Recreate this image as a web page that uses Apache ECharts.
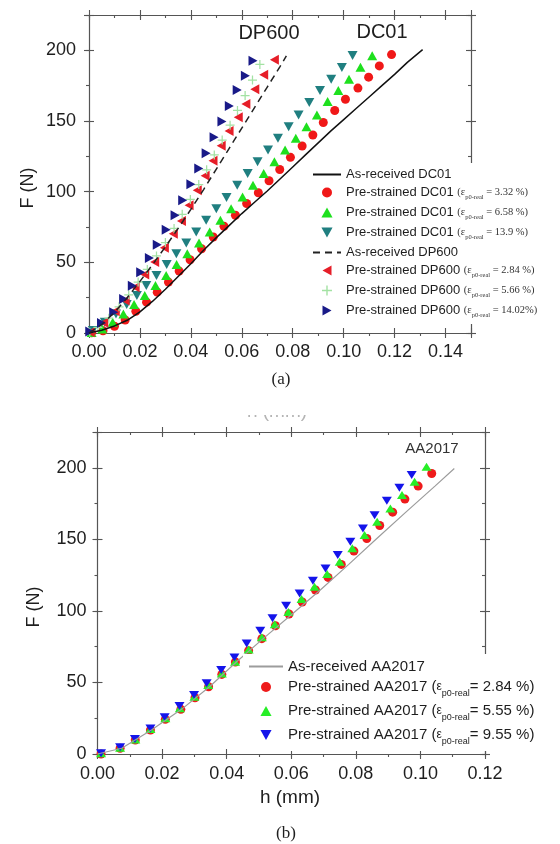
<!DOCTYPE html>
<html>
<head>
<meta charset="utf-8">
<script src="https://cdn.jsdelivr.net/npm/echarts@6/dist/echarts.min.js"></script>
<style>
html, body { margin: 0; padding: 0; background: #fff; }
#chart { width: 560px; height: 844px; }
</style>
</head>
<body>
<div id="chart"></div>
<script>
// ---- Panel (a): DC01 and DP600 steel, indentation force F (N) vs depth h (mm) ----
const dc01AsReceived = [[0,0],[0.005,2],[0.01,5],[0.015,9],[0.02,15],[0.025,22.5],[0.03,31],[0.035,40],[0.04,49],[0.045,58.5],[0.05,67.5],[0.055,76],[0.06,84.5],[0.065,92.5],[0.07,100.5],[0.075,109],[0.08,117.5],[0.085,126],[0.09,134.5],[0.095,143],[0.1,151],[0.105,159],[0.11,167],[0.115,175],[0.12,183],[0.125,191.5],[0.131,200.5]];
const dc01Pre332 = [[0.001,0.2],[0.0055,1.6],[0.01,4.8],[0.0142,9.2],[0.0184,15.4],[0.0226,21.8],[0.0268,28.9],[0.0312,36],[0.0354,43.8],[0.0397,51.8],[0.0442,59.6],[0.0488,67.9],[0.053,75.5],[0.0575,83.3],[0.0619,91.6],[0.0665,99.2],[0.0707,107.7],[0.0749,115.7],[0.0791,124.3],[0.0837,132.3],[0.0879,140.1],[0.092,148.9],[0.0965,157.4],[0.1007,165.4],[0.1056,173.3],[0.1098,181],[0.114,189],[0.1188,197]];
const dc01Pre658 = [[0.001,0.3],[0.0052,2.8],[0.0093,7.6],[0.0135,13.5],[0.0177,20.1],[0.0219,26.5],[0.0261,33.6],[0.0303,40.7],[0.0344,48.5],[0.0386,56],[0.0432,63.7],[0.0474,71.5],[0.0516,79.8],[0.0558,88],[0.0603,96.3],[0.0644,104.6],[0.0686,112.9],[0.0728,121.2],[0.077,129.5],[0.0812,137.8],[0.0854,146],[0.0895,154.3],[0.0937,163.8],[0.0979,171.6],[0.1021,179.6],[0.1066,188],[0.1112,196.2]];
const dc01Pre139 = [[0.0015,1.7],[0.0062,7.6],[0.0106,13.5],[0.0148,20.1],[0.0188,26.5],[0.0225,33.6],[0.0265,40.7],[0.0305,48.5],[0.0343,56.1],[0.0382,63.7],[0.0421,71.5],[0.046,79.8],[0.05,88],[0.054,95.9],[0.0582,104.6],[0.0623,112.9],[0.0662,121.2],[0.0703,129.5],[0.0742,137.8],[0.0784,146],[0.0823,154.3],[0.0865,163.1],[0.0907,171.6],[0.0951,179.6],[0.0993,187.9],[0.1035,196.4]];
const dp600AsReceived = [[0,0],[0.005,6],[0.01,14.5],[0.015,25],[0.02,36.5],[0.025,48.5],[0.03,61],[0.035,74],[0.04,87.5],[0.045,101.5],[0.05,116],[0.055,130.5],[0.06,145],[0.065,159.5],[0.07,174],[0.075,188.5],[0.0775,196]];
const dp600Pre284 = [[0.0005,0.5],[0.0058,7.2],[0.0103,15.4],[0.0142,23],[0.0181,32.4],[0.0219,41.4],[0.0258,50.2],[0.0296,60.4],[0.0331,70.3],[0.0363,79.3],[0.0393,90.4],[0.0425,101],[0.0456,111.2],[0.0487,121.9],[0.0519,132.5],[0.055,143],[0.0586,152.7],[0.0616,162],[0.0651,172.5],[0.0686,182.7],[0.0728,193.4]];
const dp600Pre566 = [[0.0003,0.5],[0.0035,4],[0.0078,10.5],[0.0118,18.5],[0.0156,27],[0.0193,36],[0.0229,45],[0.0265,54.5],[0.03,64],[0.0334,74],[0.0366,84],[0.0398,94.5],[0.0431,105],[0.0462,115.5],[0.0492,126],[0.0523,136.5],[0.0554,147],[0.0583,157.5],[0.0613,168],[0.0642,179],[0.0671,190]];
const dp600Pre1402 = [[0.0003,1],[0.0049,7.1],[0.0097,14.6],[0.0136,24.1],[0.017,33.5],[0.0203,43],[0.0237,53],[0.0268,62.5],[0.0303,73.1],[0.0338,83.3],[0.0368,94],[0.04,105.3],[0.0431,116.4],[0.046,127.1],[0.0491,138.5],[0.0522,149.6],[0.0551,160.7],[0.0582,172],[0.0614,182],[0.0644,192.7]];

// ---- Panel (b): AA2017 aluminium ----
const aa2017AsReceived = [[0,0],[0.0075,4],[0.0167,16.8],[0.026,31.2],[0.0347,47],[0.043,64.3],[0.0513,80.6],[0.0603,97.8],[0.069,114.6],[0.0778,132.5],[0.0865,150.6],[0.0955,169],[0.1045,187.2],[0.1105,199.5]];
const aa2017Pre284 = [[0.0011,0],[0.007,4],[0.0117,9.8],[0.0164,16.8],[0.021,24.2],[0.0258,31.2],[0.0302,39.3],[0.0344,47],[0.0385,55.6],[0.0427,64.3],[0.0468,72.2],[0.0509,80.6],[0.0551,89.6],[0.0593,97.8],[0.0634,106.2],[0.0675,114.6],[0.0714,123.4],[0.0755,132.5],[0.0794,141.8],[0.0834,150.6],[0.0874,159.7],[0.0914,169],[0.0952,178.1],[0.0993,187.2],[0.1035,196]];
const aa2017Pre555 = [[0.0011,0.5],[0.007,4.4],[0.0117,10.2],[0.0164,17.5],[0.021,24.9],[0.0255,31.9],[0.03,40],[0.0343,48.2],[0.0385,56.3],[0.0426,64.5],[0.0468,73.1],[0.0509,81.5],[0.0549,90.6],[0.0591,99.2],[0.0632,108.3],[0.0672,116.9],[0.0711,125.7],[0.075,134.3],[0.0789,143.7],[0.0827,153],[0.0866,162.3],[0.0907,171.6],[0.0943,180.9],[0.0982,190.2],[0.1019,200.7]];
const aa2017Pre955 = [[0.0011,0.5],[0.007,4.7],[0.0116,10.5],[0.0164,17.9],[0.0208,25.6],[0.0254,33.5],[0.0299,41.2],[0.0338,49.4],[0.0383,58.7],[0.0424,67.5],[0.0462,77.3],[0.0504,86.1],[0.0542,94.8],[0.0584,103.6],[0.0626,112.2],[0.0667,121.1],[0.0706,129.7],[0.0744,139],[0.0783,148.3],[0.0822,157.6],[0.0858,166.9],[0.0896,176.9],[0.0935,186],[0.0973,194.9]];

// Legend entries: [series name, pre-strain value or null for the as-received curves]
const legendA = [
  ['As-received DC01', null],
  ['Pre-strained DC01 (3.32)', '3.32 %'],
  ['Pre-strained DC01 (6.58)', '6.58 %'],
  ['Pre-strained DC01 (13.9)', '13.9 %'],
  ['As-received DP600', null],
  ['Pre-strained DP600 (2.84)', '2.84 %'],
  ['Pre-strained DP600 (5.66)', '5.66 %'],
  ['Pre-strained DP600 (14.02)', '14.02%']
];
const legendB = [
  ['As-received AA2017', null],
  ['Pre-strained AA2017 (2.84)', '2.84 %'],
  ['Pre-strained AA2017 (5.55)', '5.55 %'],
  ['Pre-strained AA2017 (9.55)', '9.55 %']
];

// Axis tick values
const xTicksA = [0, 0.02, 0.04, 0.06, 0.08, 0.10, 0.12, 0.14];
const xTicksB = [0, 0.02, 0.04, 0.06, 0.08, 0.10, 0.12];
const yTicks = [0, 50, 100, 150, 200];

const SANS = '"Liberation Sans", Arial, sans-serif';
const SERIF = '"Liberation Serif", "Times New Roman", serif';
const AXC = '#555';
const TXT = '#1e1e1e';

const SYM_DOWN = 'path://M0,0L10,0L5,9Z';
const SYM_UP = 'path://M5,0L10,9L0,9Z';
const SYM_LEFT = 'path://M9,0L9,10L0,5Z';
const SYM_RIGHT = 'path://M0,0L9,5L0,10Z';
const SYM_PLUS = 'path://M4.3,0H5.7V10H4.3ZM0,4.3H10V5.7H0Z';

function onTick(list) {
  return function (v) {
    for (const t of list) if (Math.abs(v - t) < 1e-9) return list === yTicks ? String(t) : t.toFixed(2);
    return '';
  };
}

function tickAxis(grid, pos, min, max, step, inside, len, mainLine, labels) {
  const ax = {
    type: 'value', gridIndex: grid, position: pos, min: min, max: max, interval: step,
    silent: true,
    splitLine: { show: false },
    minorTick: { show: false },
    axisLine: { show: !!mainLine, onZero: false, lineStyle: { color: AXC, width: 1.2 } },
    axisTick: { show: true, inside: inside, length: len, lineStyle: { color: AXC, width: 1.1 } },
    axisLabel: { show: false },
    axisPointer: { show: false }
  };
  if (labels) {
    ax.axisLabel = Object.assign({ show: true, fontFamily: SANS, fontSize: 18, color: TXT }, labels);
  }
  return ax;
}

function xAxesFor(grid, max, ticks, margin) {
  return [
    tickAxis(grid, 'bottom', 0, max, 0.02, false, 5, true, { margin: margin, formatter: onTick(ticks) }),
    tickAxis(grid, 'bottom', 0, max, 0.02, true, 5, false),
    tickAxis(grid, 'bottom', 0, max, 0.01, false, 3, false),
    tickAxis(grid, 'top', 0, max, 0.02, false, 5, true),
    tickAxis(grid, 'top', 0, max, 0.02, true, 5, false),
    tickAxis(grid, 'top', 0, max, 0.01, true, 3, false)
  ];
}
function yAxesFor(grid, margin) {
  return [
    tickAxis(grid, 'left', 0, 225, 50, false, 5, true, { margin: margin, formatter: onTick(yTicks) }),
    tickAxis(grid, 'left', 0, 225, 50, true, 5, false),
    tickAxis(grid, 'left', 0, 225, 25, false, 3, false),
    tickAxis(grid, 'right', 0, 225, 50, false, 5, true),
    tickAxis(grid, 'right', 0, 225, 50, true, 5, false),
    tickAxis(grid, 'right', 0, 225, 25, true, 3, false)
  ];
}

function lineSeries(name, data, ax, color, width, type) {
  return {
    name: name, type: 'line', data: data, xAxisIndex: ax, yAxisIndex: ax,
    symbol: 'none', showSymbol: false, silent: true,
    lineStyle: { color: color, width: width, type: type || 'solid' },
    itemStyle: { color: color }
  };
}
function dotSeries(name, data, ax, color, symbol, size) {
  return {
    name: name, type: 'scatter', data: data, xAxisIndex: ax, yAxisIndex: ax,
    symbol: symbol, symbolSize: size, silent: true,
    itemStyle: { color: color, opacity: 1 }
  };
}

function labelA(name) {
  const e = legendA.find(r => r[0] === name);
  if (!e[1]) return '{p|' + name + '}';
  const base = name.split(' (')[0];
  return '{n|' + base + ' }{s|(\u03b5}{sub|p0-real}{s| = ' + e[1] + ')}';
}
function labelB(name) {
  const e = legendB.find(r => r[0] === name);
  if (!e[1]) return '{p|' + name + '}';
  const base = name.split(' (')[0];
  return '{m|' + base + ' (}{e|\u03b5}{sub|p0-real}{m|= ' + e[1] + ')}';
}

// Legend items: the as-received curves show only their line, no marker
function legendItems(rows) {
  return rows.map(r => r[1] ? { name: r[0] } :
    { name: r[0], itemStyle: { color: 'rgba(0,0,0,0)', opacity: 0, borderWidth: 0 } });
}

const L = legendA.map(r => r[0]);
const M = legendB.map(r => r[0]);

const option = {
  animation: false,
  backgroundColor: '#fff',
  grid: [
    { left: 89, top: 15, width: 382, height: 318, outerBoundsMode: 'none' },
    { left: 97.5, top: 432, width: 387.5, height: 322, outerBoundsMode: 'none' }
  ],
  xAxis: xAxesFor(0, 0.15, xTicksA, 10).concat(xAxesFor(1, 0.12, xTicksB, 11)),
  yAxis: yAxesFor(0, 13).concat(yAxesFor(1, 11)),
  legend: [
    {
      data: legendItems(legendA), orient: 'vertical', left: 307, top: 163, padding: 5,
      itemWidth: 28, itemHeight: 10, itemGap: 5,
      backgroundColor: '#fff', selectedMode: false, z: 10,
      formatter: labelA,
      textStyle: {
        color: TXT,
        rich: {
          p: { fontFamily: SANS, fontSize: 13, lineHeight: 14, color: TXT },
          n: { fontFamily: SANS, fontSize: 13, lineHeight: 17, color: TXT },
          s: { fontFamily: SERIF, fontSize: 10.5, lineHeight: 17, color: '#333' },
          sub: { fontFamily: SERIF, fontSize: 6.5, lineHeight: 8, verticalAlign: 'bottom', color: '#333' }
        }
      }
    },
    {
      data: legendItems(legendB), orient: 'vertical', left: 243, top: 654, padding: 5,
      itemWidth: 34, itemHeight: 10, itemGap: 5.5,
      backgroundColor: '#fff', selectedMode: false, z: 10,
      formatter: labelB,
      textStyle: {
        color: TXT,
        rich: {
          p: { fontFamily: SANS, fontSize: 15, lineHeight: 16, color: TXT },
          m: { fontFamily: SANS, fontSize: 15, lineHeight: 22, color: TXT },
          e: { fontFamily: SANS, fontSize: 12, lineHeight: 22, color: TXT },
          sub: { fontFamily: SANS, fontSize: 9, lineHeight: 9, verticalAlign: 'bottom', color: TXT }
        }
      }
    }
  ],
  series: [
    lineSeries(L[0], dc01AsReceived, 0, '#111', 1.5),
    dotSeries(L[1], dc01Pre332, 0, '#f01818', 'circle', 9),
    dotSeries(L[2], dc01Pre658, 0, '#1ee01e', SYM_UP, [10, 9]),
    dotSeries(L[3], dc01Pre139, 0, '#207f80', SYM_DOWN, [10, 9]),
    lineSeries(L[4], dp600AsReceived, 0, '#222', 1.5, [7, 5]),
    dotSeries(L[5], dp600Pre284, 0, '#e61e28', SYM_LEFT, [9, 10]),
    dotSeries(L[6], dp600Pre566, 0, '#a3e2a3', SYM_PLUS, 9),
    dotSeries(L[7], dp600Pre1402, 0, '#191a88', SYM_RIGHT, [9, 10]),

    lineSeries(M[0], aa2017AsReceived, 6, '#9c9c9c', 1.2),
    dotSeries(M[1], aa2017Pre284, 6, '#ee1b1b', 'circle', 9),
    dotSeries(M[2], aa2017Pre555, 6, '#27ee27', SYM_UP, [10, 8]),
    dotSeries(M[3], aa2017Pre955, 6, '#1414ea', SYM_DOWN, [10, 8])
  ],
  graphic: [
    { type: 'text', x: 28, y: 188, rotation: Math.PI / 2, silent: true,
      style: { text: 'F (N)', font: '18px ' + SANS, fill: TXT, align: 'center', verticalAlign: 'middle' } },
    { type: 'text', x: 269, y: 33, silent: true,
      style: { text: 'DP600', font: '20px ' + SANS, fill: TXT, align: 'center', verticalAlign: 'middle' } },
    { type: 'text', x: 382, y: 32, silent: true,
      style: { text: 'DC01', font: '20px ' + SANS, fill: TXT, align: 'center', verticalAlign: 'middle' } },
    { type: 'text', x: 281, y: 380, silent: true,
      style: { text: '(a)', font: '17px ' + SERIF, fill: TXT, align: 'center', verticalAlign: 'middle' } },
    { type: 'text', x: 277, y: 412, silent: true, z: 1,
      style: { text: 'h (mm)', font: '19px ' + SANS, fill: '#b4b4b4', align: 'center', verticalAlign: 'middle' } },
    { type: 'rect', shape: { x: 230, y: 394, width: 100, height: 21 }, silent: true, z: 2,
      style: { fill: '#fff' } },
    { type: 'text', x: 432, y: 449, silent: true,
      style: { text: 'AA2017', font: '15px ' + SANS, fill: '#333', align: 'center', verticalAlign: 'middle' } },
    { type: 'text', x: 34.5, y: 607, rotation: Math.PI / 2, silent: true,
      style: { text: 'F (N)', font: '18px ' + SANS, fill: TXT, align: 'center', verticalAlign: 'middle' } },
    { type: 'text', x: 290, y: 798, silent: true,
      style: { text: 'h (mm)', font: '19px ' + SANS, fill: TXT, align: 'center', verticalAlign: 'middle' } },
    { type: 'text', x: 286, y: 834, silent: true,
      style: { text: '(b)', font: '17px ' + SERIF, fill: TXT, align: 'center', verticalAlign: 'middle' } }
  ]
};

const chart = echarts.init(document.getElementById('chart'), null, { renderer: 'canvas' });
chart.setOption(option);
</script>
</body>
</html>
